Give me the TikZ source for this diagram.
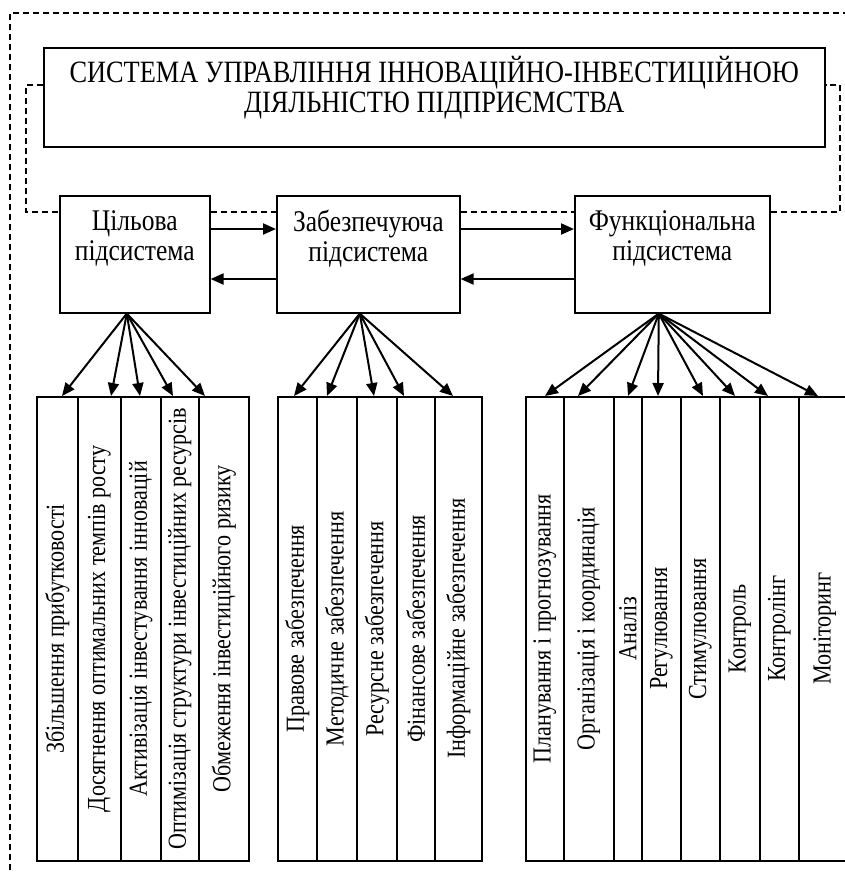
\documentclass[tikz,border=0pt]{standalone}
\usepackage{fontspec}
\setmainfont{Liberation Serif}
\usepackage{graphicx}
\usepackage{tikz}
\usetikzlibrary{arrows.meta}
\newcommand\nar[1]{\scalebox{0.85}[1]{#1}}

\begin{document}
\begin{tikzpicture}[x=0.5pt,y=-0.5pt,>={Triangle[length=6.5pt,width=5.5pt]},font=\fontsize{15}{15}\selectfont,
 box/.style={draw,line width=.8pt,fill=white,inner sep=0pt},
 sub/.style={box,anchor=north west,align=center,minimum height=58.5pt},
 col/.style={box,anchor=north west,minimum height=232pt,font=\fontsize{13}{13}\selectfont},
 dsh/.style={dash pattern=on 3pt off 2pt,line width=.75pt},
 arr/.style={->,line width=1pt}]
\path[use as bounding box] (0,0) rectangle (845,874);
\draw[dsh] (10,890) |- (860,13);
\node[box,anchor=north west,minimum width=390.5pt,minimum height=49.5pt,align=center,font=\fontsize{15.5}{13}\selectfont] (title) at (43,47) {\nar{СИСТЕМА УПРАВЛІННЯ ІННОВАЦІЙНО-ІНВЕСТИЦІЙНОЮ}\\\nar{ДІЯЛЬНІСТЮ ПІДПРИЄМСТВА}\\};
\node[sub,minimum width=75pt] (cil) at (59,195) {\nar{Цільова}\\\nar{підсистема}\\[4pt]};
\node[sub,minimum width=91.5pt] (zab) at (276,195) {\nar{Забезпечуюча}\\\nar{підсистема}\\[4pt]};
\node[sub,minimum width=97.5pt] (fun) at (574,195) {\nar{Функціональна}\\\nar{підсистема}\\[4pt]};
\draw[dsh] (title.west |- 0,85) -| (26,212) -- (cil.west |- 0,212);
\draw[dsh] (cil.east |- 0,212) -- (zab.west |- 0,212);
\draw[dsh] (zab.east |- 0,212) -- (fun.west |- 0,212);
\draw[dsh] (fun.east |- 0,212) -| (840,85) -- (title.east |- 0,85);
\draw[arr] (cil.east |- 0,229) -- (zab.west |- 0,229);
\draw[arr] (zab.east |- 0,229) -- (fun.west |- 0,229);
\draw[arr] (zab.west |- 0,279) -- (cil.east |- 0,279);
\draw[arr] (fun.west |- 0,279) -- (zab.east |- 0,279);
\foreach \l/\r/\t/\s [count=\i] in {36/77/62/Збільшення прибутковості,77/120/111/Досягнення оптимальних темпів росту,120/160/140/Активізація інвестування інновацій,160/198/173/Оптимізація структури інвестиційних ресурсів,198/248/205/Обмеження інвестиційного ризику}{
 \node[col,minimum width={(\r-\l)*0.5pt}] (a\i) at (\l,396) {\rotatebox{90}{\nar{\s}}};
 \draw[arr] ([xshift=-4pt]cil.south) -- (a\i.north -| \t,0);
}
\foreach \l/\r/\t/\s [count=\i] in {277/316/294/Правове забезпечення,316/356/327/Методичне забезпечення,356/396/374/Ресурсне забезпечення,396/434/404/Фінансове забезпечення,434/481/453/Інформаційне забезпечення}{
 \node[col,minimum width={(\r-\l)*0.5pt}] (b\i) at (\l,396) {\rotatebox{90}{\nar{\s}}};
 \draw[arr] ([xshift=-4.25pt]zab.south) -- (b\i.north -| \t,0);
}
\foreach \l/\r/\t/\s [count=\i] in {525/563/545/Планування і прогнозування,563/613/578/Організація і координація,613/641/628/Аналіз,641/680/658/Регулювання,680/719/703/Стимулювання,719/759/735/Контроль,759/798/768/Контролінг,798/850/818/Моніторинг}{
 \node[col,minimum width={(\r-\l)*0.5pt}] (c\i) at (\l,396) {\rotatebox{90}{\nar{\s}}};
 \draw[arr] ([xshift=-6.75pt]fun.south) -- (c\i.north -| \t,0);
}
\end{tikzpicture}
\end{document}
